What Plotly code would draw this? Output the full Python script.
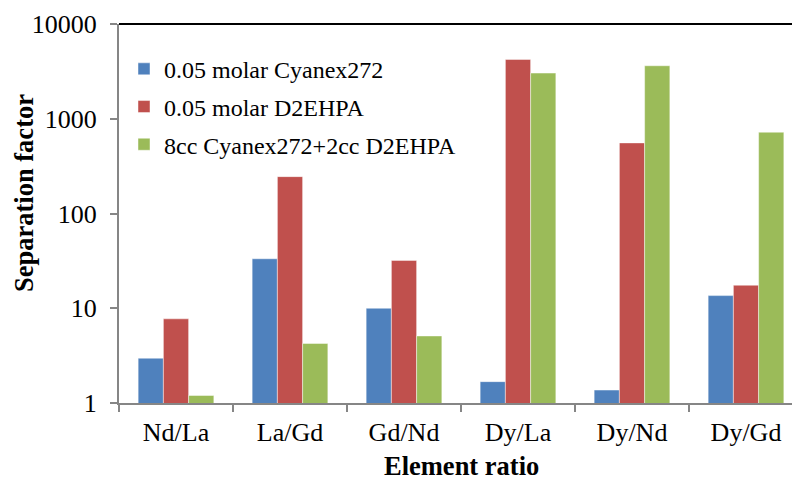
import plotly.graph_objects as go

categories = ["Nd/La", "La/Gd", "Gd/Nd", "Dy/La", "Dy/Nd", "Dy/Gd"]
cyanex = [2.97, 33.3, 10.0, 1.68, 1.37, 13.6]
d2ehpa = [7.73, 245, 32, 4225, 556, 17.5]
mixed = [1.2, 4.25, 5.1, 3035, 3625, 721]
series_names = ["0.05 molar Cyanex272", "0.05 molar D2EHPA", "8cc Cyanex272+2cc D2EHPA"]
colors = ["#4F81BD", "#C0504D", "#9BBB59"]
y_ticks = [1, 10, 100, 1000, 10000]

FONT = "Liberation Serif"

fig = go.Figure()
for i, (name, vals) in enumerate(zip(series_names, [cyanex, d2ehpa, mixed])):
    fig.add_trace(go.Bar(
        x=categories, y=vals, name=name, legendgroup=f"g{i}",
        marker=dict(color=colors[i], line=dict(color="rgba(255,255,255,0.45)", width=1)),
    ))

W, H = 792, 482
L, T, B, R = 119, 24, 79, 0
pw = W - L - R
ph = H - T - B

fig.update_layout(
    width=W, height=H,
    margin=dict(l=L, r=R, t=T, b=B, pad=0, autoexpand=False),
    paper_bgcolor="white", plot_bgcolor="white",
    barmode="group", bargap=0.336, bargroupgap=0,
    font=dict(family=FONT, size=26, color="black"),
    showlegend=True,
    legend=dict(
        x=5 / pw, y=0.94, xanchor="left", yanchor="top",
        font=dict(family=FONT, size=24, color="black"),
        bgcolor="rgba(0,0,0,0)", tracegroupgap=3.5,
        traceorder="grouped",
    ),
    xaxis=dict(
        range=[-0.5, -0.5 + pw / 114.0], automargin=False,
        showline=True, linecolor="#868686", linewidth=2,
        ticks="outside", tickson="boundaries", ticklen=7, tickwidth=2, tickcolor="#868686",
        tickfont=dict(family=FONT, size=26, color="black"),
        showgrid=False, zeroline=False,
        ticklabelstandoff=5,
    ),
    yaxis=dict(
        type="log", range=[0, 4], automargin=False,
        tickvals=y_ticks, ticktext=[str(v) for v in y_ticks],
        showline=True, linecolor="#868686", linewidth=2,
        ticks="outside", ticklen=7, tickwidth=2, tickcolor="#868686",
        tickfont=dict(family=FONT, size=26, color="black"),
        showgrid=False, zeroline=False,
        ticklabelstandoff=8,
    ),
    shapes=[dict(type="line", xref="paper", yref="paper", x0=0, x1=1, y0=1, y1=1,
                 line=dict(color="black", width=2))],
    annotations=[
        dict(text="<b>Element ratio</b>", xref="paper", yref="paper",
             x=(461.5 - L) / pw, y=-B / ph, xanchor="center", yanchor="bottom",
             borderpad=0, showarrow=False,
             font=dict(family=FONT, size=26.5, color="black")),
        dict(text="<b>Separation factor</b>", xref="paper", yref="paper",
             x=(24 - L) / pw, y=(H - B - 193) / ph, xanchor="center", yanchor="middle",
             textangle=-90, showarrow=False, font=dict(family=FONT, size=26.5, color="black")),
    ],
)

fig.write_html("out.html", config={"displayModeBar": False},
               post_script="document.body.style.margin='0';document.body.style.overflow='hidden';")
